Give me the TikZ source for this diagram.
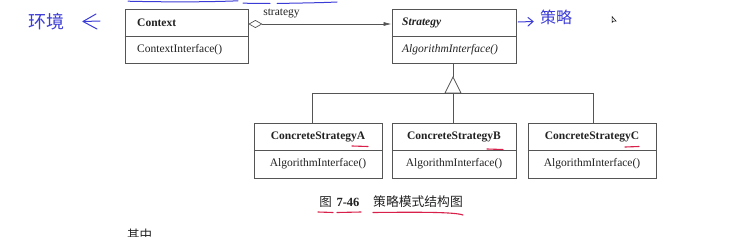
\documentclass[tikz,border=0pt]{standalone}
\usepackage{fontspec}
\setmainfont{Liberation Serif}
\newfontfamily\cjk{Noto Sans CJK SC}
\usetikzlibrary{arrows.meta}
\definecolor{boxline}{HTML}{555555}
\definecolor{inktext}{HTML}{222222}
\definecolor{pen}{HTML}{3B3BD6}
\definecolor{redpen}{HTML}{D8204A}
\begin{document}
\begin{tikzpicture}[x=1pt,y=-1pt,
  classbox/.style={draw=boxline, line width=0.8pt, minimum width=#1, minimum height=54pt, inner sep=0pt},
  umltext/.style={font=\fontsize{11.5}{13}\selectfont, text=inktext, inner sep=0pt},
  conn/.style={draw=boxline, line width=0.7pt},
  bluepen/.style={draw=pen, line width=1pt, line cap=round, line join=round},
  redline/.style={draw=redpen, line width=1.1pt, line cap=round},
  handtext/.style={text=pen, inner sep=0pt}]
\useasboundingbox (0,0) rectangle (750,236);

% class boxes
\node[classbox=123pt] (ctx) at (186.5,36) {};
\node[classbox=124pt] (strat) at (454,36) {};
\node[classbox=128pt, minimum height=55pt] (cA) at (318,150.5) {};
\node[classbox=124pt, minimum height=55pt] (cB) at (454,150.5) {};
\node[classbox=128pt, minimum height=55pt] (cC) at (592,150.5) {};
\foreach \b in {ctx,strat,cA,cB,cC} \draw[boxline, line width=0.8pt] (\b.west) -- (\b.east);

% texts
\node[umltext, anchor=west] (ctxname) at (137,22.5) {\bfseries Context};
\node[umltext, anchor=west] (ctxop) at (137,49.5) {ContextInterface()};
\node[umltext, anchor=west] (stratname) at (402,22.5) {\bfseries\itshape Strategy};
\node[umltext, anchor=west] (stratop) at (402,49.5) {\itshape AlgorithmInterface()};
\node[umltext] (aname) at (318,137) {\bfseries ConcreteStrategyA};
\node[umltext] (aop) at (318,164) {AlgorithmInterface()};
\node[umltext] (bname) at (454,137) {\bfseries ConcreteStrategyB};
\node[umltext] (bop) at (454,164) {AlgorithmInterface()};
\node[umltext] (cname) at (592,137) {\bfseries ConcreteStrategyC};
\node[umltext] (cop) at (592,164) {AlgorithmInterface()};

% aggregation
\coordinate (agg) at (0,24);
\draw[conn, {Diamond[open,length=14pt,width=8pt]}-{Latex[length=8pt,width=4pt]}] (ctx.east |- agg) -- (strat.west |- agg);
\node[umltext] (rolelbl) at (281.5,14) {strategy};

% inheritance
\coordinate (apex) at (453,77);
\coordinate (tl) at (445,93);
\coordinate (tr) at (461,93);
\coordinate (base) at (453,93);
\coordinate (barA) at (312,93);
\coordinate (barC) at (593,93);
\draw[conn] (apex |- strat.south) -- (apex);
\draw[conn, fill=white] (apex) -- (tl) -- (tr) -- cycle;
\draw[conn] (barA) -- (barC);
\draw[conn] (barA) -- (barA |- cA.north);
\draw[conn] (base) -- (base |- cB.north);
\draw[conn] (barC) -- (barC |- cC.north);

% caption
\node[inner sep=0pt, text=inktext, font=\fontsize{12.5}{14}\selectfont\cjk] (figch) at (325.5,202) {图};
\node[inner sep=0pt, text=inktext, font=\fontsize{12.5}{14}\selectfont\bfseries] (fignum) at (348,202) {7-46};
\node[inner sep=0pt, text=inktext, font=\fontsize{12.8}{14}\selectfont\cjk] (figtitle) at (418,202) {策略模式结构图};

% red underlines
\draw[redline] (352,146) -- (368,146.5);
\draw[redline] (487,149) -- (503,149.5);
\draw[redline] (625,147) -- (639,146.5);
\draw[redline] (318,212) -- (333,212.5);
\draw[redline] (337,212.5) -- (361,212);
\draw[redline] (373,212.5) .. controls (420,212) and (455,212) .. (463,215);

% blue annotations
\draw[bluepen] (128,1.2) .. controls (170,2.2) and (210,2) .. (238,0.8);
\draw[bluepen] (243,3.2) -- (270,3.5);
\draw[bluepen] (277,3.5) .. controls (300,3) and (320,2.8) .. (337,2);
\node[handtext, font=\fontsize{18}{20}\selectfont\cjk] (envtxt) at (46,22) {环境};
\draw[bluepen] (100,21) -- (83,21.5);
\draw[bluepen] (96,14) -- (83,21.5) -- (97,29);
\draw[bluepen] (518,22) -- (533,21.5);
\draw[bluepen] (528,17.5) -- (533,21.5) -- (528,26);
\node[handtext, font=\fontsize{16}{18}\selectfont\cjk] (strtxt) at (556,17) {策略};

% cursor
\draw[fill=white, draw=black, line width=0.5pt] (612,16.5) -- (612,22.5) -- (613.5,21) -- (616,21) -- cycle;

% cut-off text at bottom
\node[inner sep=0pt, anchor=north west, text=inktext, font=\fontsize{12.5}{14}\selectfont\cjk] (qizhong) at (127,229) {其中};
\end{tikzpicture}
\end{document}
